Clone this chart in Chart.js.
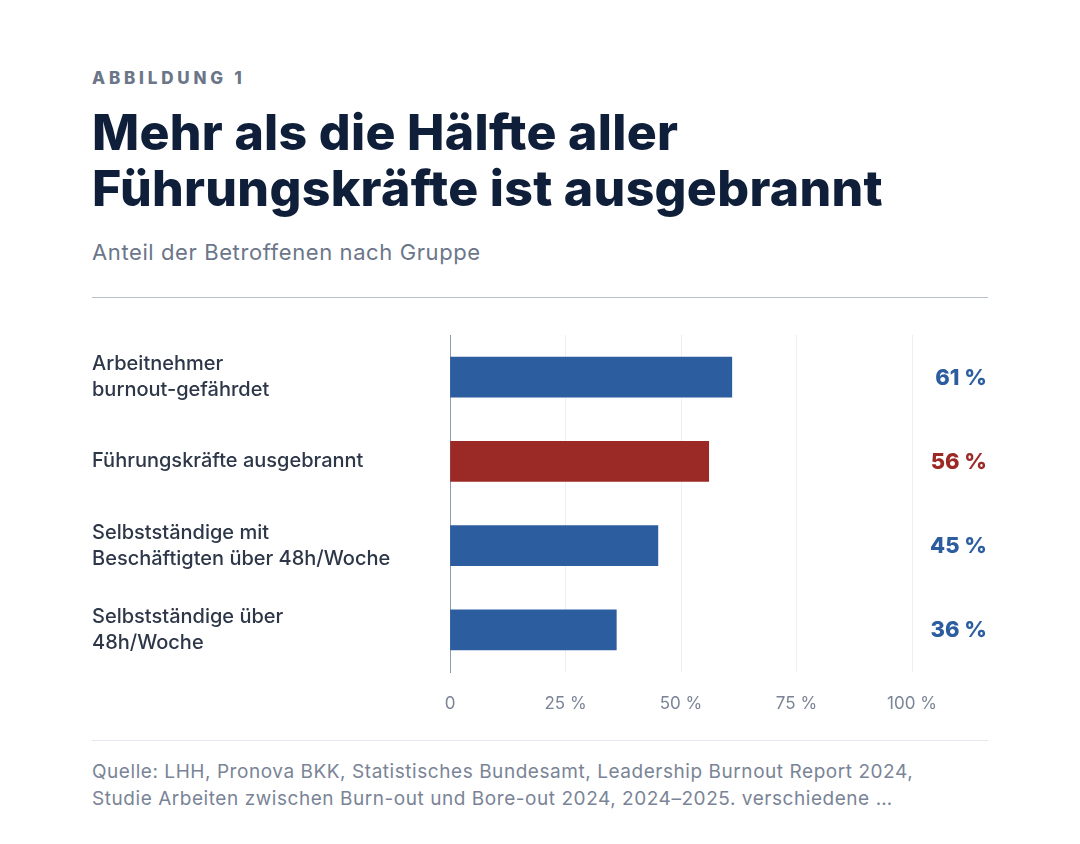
<!DOCTYPE html>
<html><head><meta charset="utf-8">
<script src="https://cdn.jsdelivr.net/npm/chart.js"></script>
<style>
body{margin:0;background:#fff;font-family:Inter,"Noto Sans",sans-serif;}
#wrap{position:relative;width:1080px;height:844px;}
.kick{position:absolute;left:92px;top:68px;font-size:17px;font-weight:800;letter-spacing:3.8px;color:#6b7689;}
.title{position:absolute;left:92px;top:104px;font-size:50px;line-height:56px;font-weight:800;color:#0f1f3a;letter-spacing:0.3px;}
.sub{position:absolute;left:92px;top:239px;font-size:22px;letter-spacing:0.6px;color:#6b7689;}
.rule{position:absolute;left:92px;width:896px;height:1px;}
.src{position:absolute;left:92px;top:758px;font-size:19px;letter-spacing:0.55px;line-height:27px;color:#7a8496;}
#c{position:absolute;left:92px;top:306px;}
</style></head><body>
<div id="wrap">
<div class="kick">ABBILDUNG 1</div>
<div class="title">Mehr als die Hälfte aller<br>Führungskräfte ist ausgebrannt</div>
<div class="sub">Anteil der Betroffenen nach Gruppe</div>
<div class="rule" style="top:297px;background:#b9c0cc"></div>
<canvas id="c" width="896" height="414" style="width:896px;height:414px"></canvas>
<div class="rule" style="top:740px;background:#e5e8ee"></div>
<div class="src">Quelle: LHH, Pronova BKK, Statistisches Bundesamt, Leadership Burnout Report 2024,<br>Studie Arbeiten zwischen Burn-out und Bore-out 2024, 2024–2025. verschiedene …</div>
</div>
<script>
var groups = [['Arbeitnehmer', 'burnout-gefährdet'], 'Führungskräfte ausgebrannt', ['Selbstständige mit', 'Beschäftigten über 48h/Woche'], ['Selbstständige über', '48h/Woche']];
var shares = [61, 56, 45, 36];
var barColors = ['#2c5d9e', '#9b2a27', '#2c5d9e', '#2c5d9e'];
var tickValues = [0, 25, 50, 75, 100];

var valueLabels = {
  id: 'valueLabels',
  afterDatasetsDraw: function(chart) {
    var ctx = chart.ctx, meta = chart.getDatasetMeta(0);
    ctx.save();
    ctx.font = '800 22px Inter';
    ctx.textAlign = 'right';
    ctx.textBaseline = 'middle';
    meta.data.forEach(function(bar, i) {
      ctx.fillStyle = barColors[i];
      ctx.fillText(shares[i] + ' %', 895, bar.y + 1);
    });
    ctx.restore();
  }
};

new Chart(document.getElementById('c'), {
  type: 'bar',
  data: { labels: groups, datasets: [{ data: shares, backgroundColor: barColors, barThickness: 40 }] },
  options: {
    indexAxis: 'y', responsive: false, animation: false,
    layout: { padding: { top: 0, right: 76 } },
    plugins: { legend: { display: false }, tooltip: { enabled: false } },
    scales: {
      x: {
        min: 0, max: 100,
        afterBuildTicks: function(s) { s.ticks = tickValues.map(function(v) { return { value: v }; }); },
        afterFit: function(s) { s.height = 48; },
        grid: { color: '#eceef2', drawTicks: false },
        border: { display: false },
        ticks: { padding: 22, color: '#7a8496', font: { family: 'Inter', size: 17 },
          callback: function(v) { return v === 0 ? '0' : v + ' %'; } }
      },
      y: {
        afterFit: function(s) { s.width = 358; },
        grid: { display: false },
        border: { color: '#8f9bb3' },
        ticks: { crossAlign: 'far', color: '#2d3748', font: { family: 'Inter', size: 20, weight: '500', lineHeight: 1.3 } }
      }
    }
  },
  plugins: [valueLabels]
});
</script>
</body></html>
